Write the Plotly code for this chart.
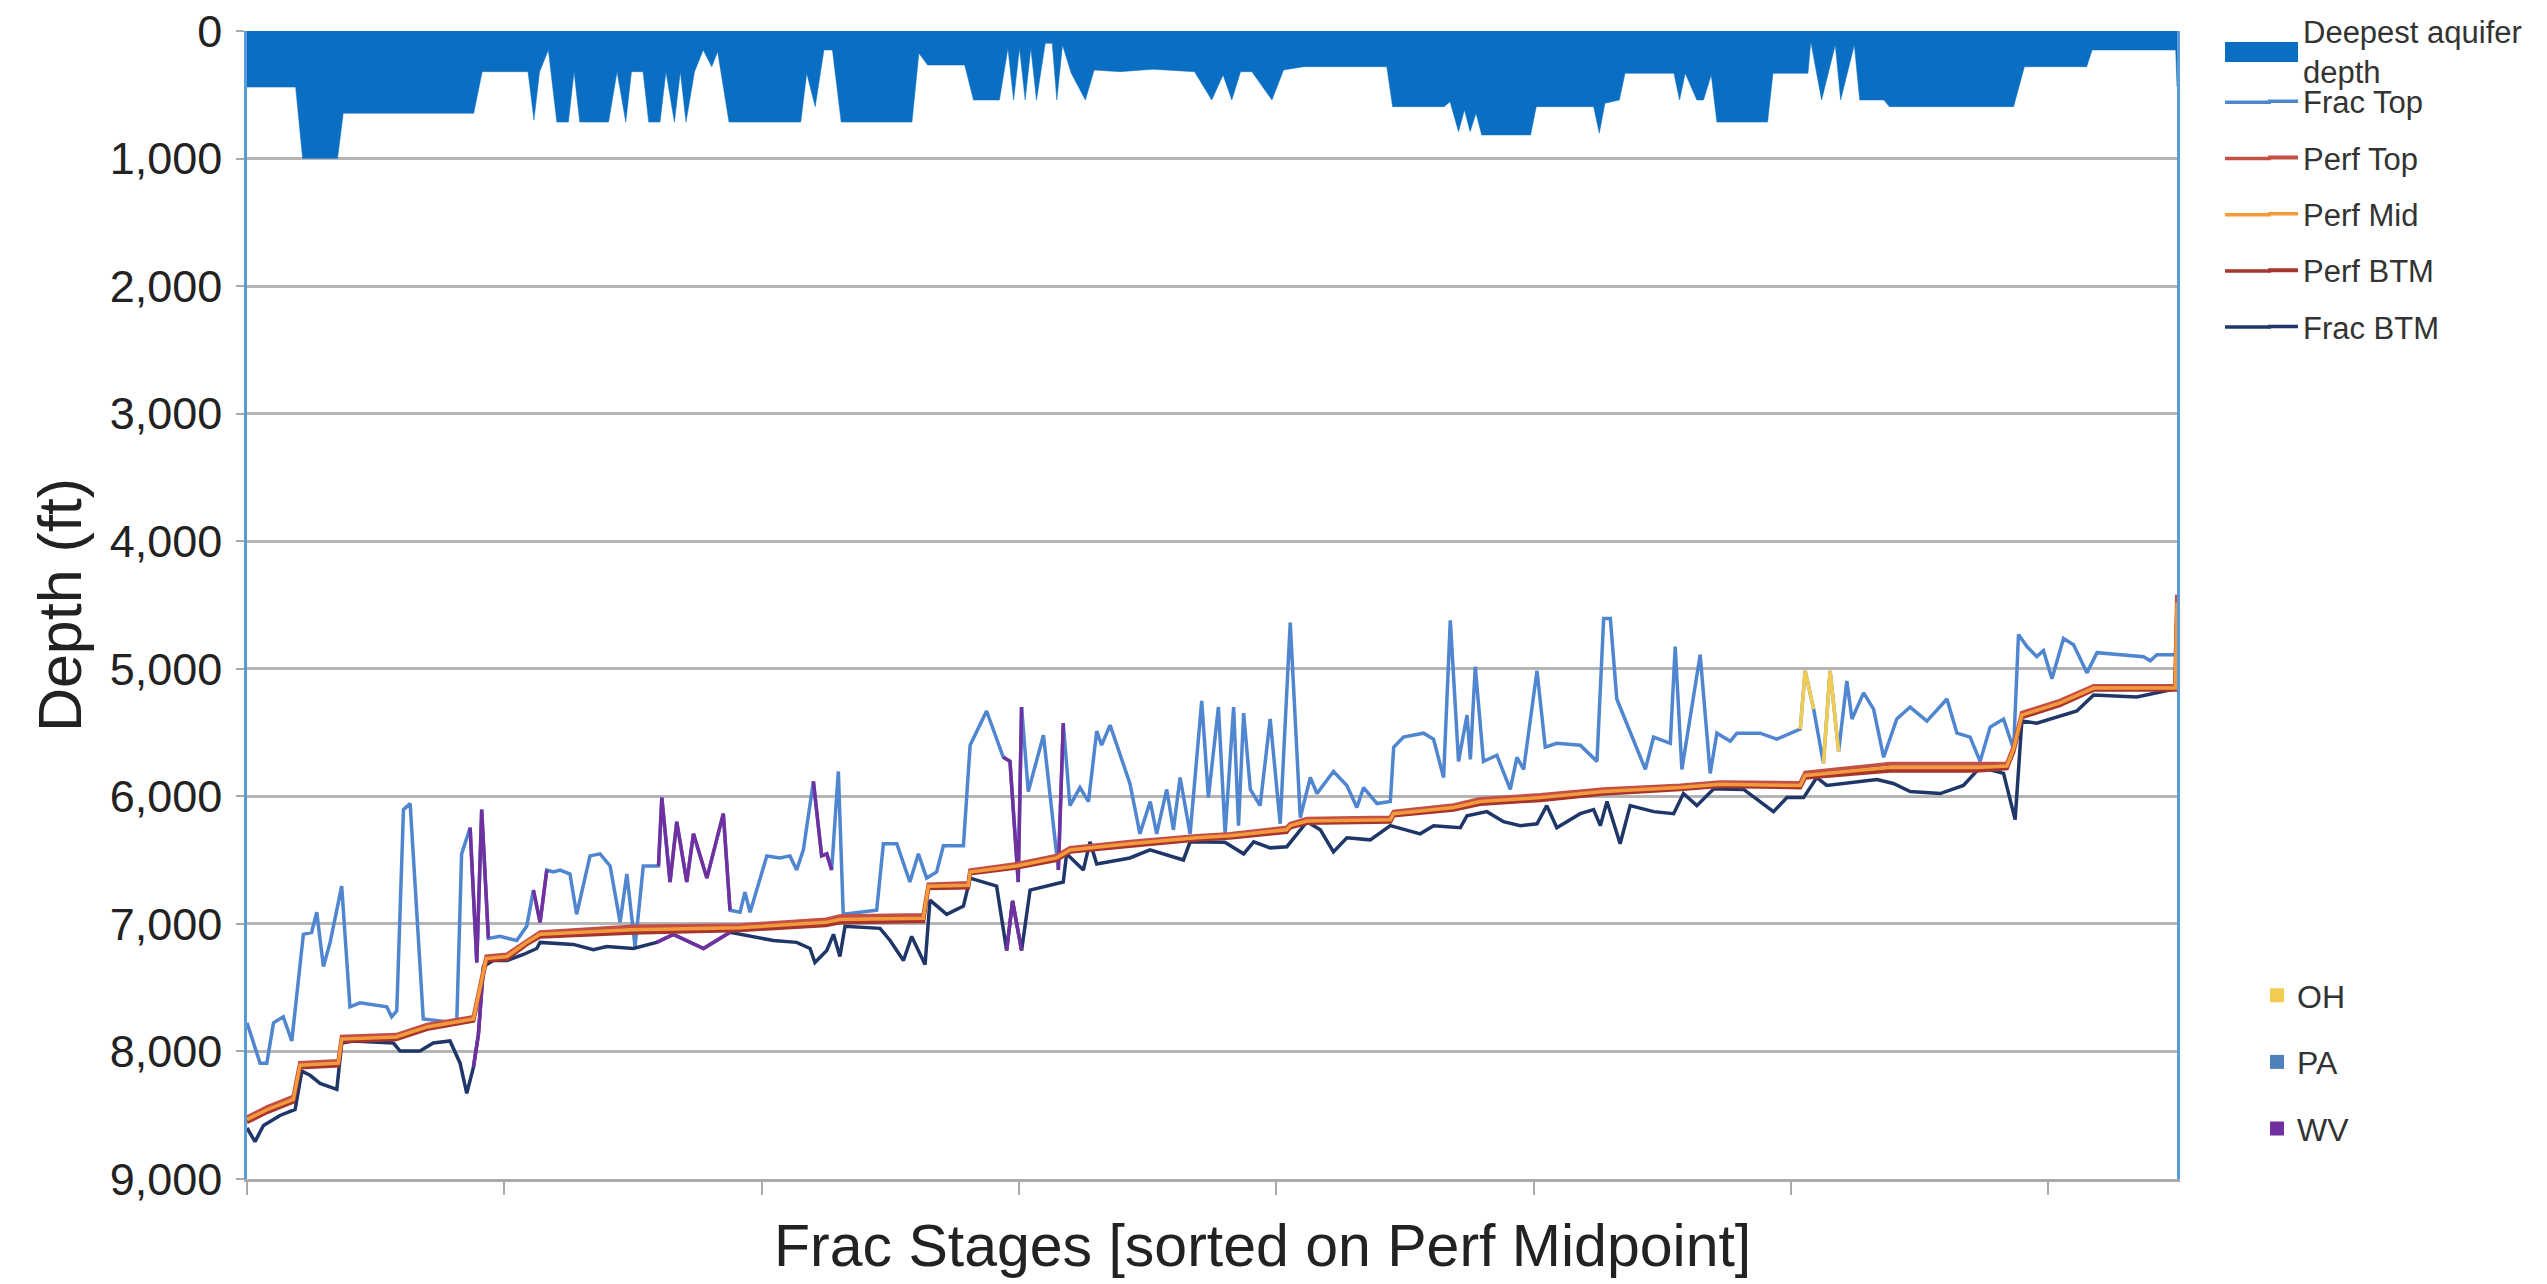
import plotly.graph_objects as go

# ---------------- data ----------------
aquifer_stage = [0, 18.9, 21.6, 35.2, 37.4, 88.1, 91.4, 109.2, 111.5, 113.7, 117.1, 120.4, 124.9, 127.1, 129.3,
                 140.5, 143.8, 147.2, 149.4, 153.9, 156.1, 160.5, 162.8, 166.1, 168.4, 170.6, 173.9, 177.3, 180.6,
                 182.9, 187.3, 215.2, 217.5, 220.8, 224.2, 227.5, 230.9, 258.4, 261.1, 264.5, 278.9, 282.3, 292.4,
                 295.7, 297.9, 300.2, 302.4, 304.6, 306.8, 310.2, 312.9, 314.7, 316.9, 320.3, 325.8, 329.2, 339.2,
                 352, 368.2, 374.9, 379.3, 382.7, 386.1, 390.5, 398.3, 402.8, 410.6, 442.9, 445.2, 465.2, 467.5,
                 470.8, 473.1, 475.3, 477.6, 479.8, 498.8, 501, 523.3, 525.5, 527.7, 533.3, 535.5, 554.5, 556.7,
                 558.9, 563.4, 566, 569, 571.2, 590.9, 593, 606.6, 607.7, 611.9, 617.2, 619.3, 624.6, 626.7, 636.1,
                 638.2, 686.5, 690.7, 714.9, 717, 749.5, 750]
aquifer_depth = [440, 440, 998, 998, 645, 645, 319, 319, 698, 319, 149, 714, 714, 319, 714,
                 714, 319, 714, 319, 319, 714, 714, 319, 714, 319, 714, 319, 149, 280,
                 162, 714, 714, 332, 593, 149, 149, 714, 714, 175, 267, 267, 541, 541,
                 136, 541, 136, 541, 136, 541, 97, 97, 541, 110, 332, 541, 306, 319,
                 300, 319, 541, 345, 541, 319, 319, 541, 306, 280, 280, 593, 593, 554,
                 789, 619, 789, 645, 815, 815, 593, 593, 802, 567, 541, 332, 332, 541,
                 332, 541, 541, 345, 714, 714, 332, 332, 84, 541, 110, 541, 110, 541, 541,
                 593, 593, 280, 280, 149, 149, 439]

frac_top_stage = [0, 5.1, 7.7, 10.3, 14.1, 17.4, 21.9, 25.1, 27.1, 29.7, 32.3, 36.8, 40, 43.9, 54.3, 56.2, 58.2,
                  60.8, 63.4, 68.5, 81.5, 83.4, 86.7, 89.3, 91.2, 93.8, 98.3, 104.8, 108.7, 111.3, 113.9, 116.5,
                  119.1, 121.7, 125.5, 128.1, 133.3, 137.2, 141.1, 145, 147.6, 150.8, 154, 159.9, 161.2, 164.4,
                  167, 170.9, 173.5, 178.7, 185.1, 187.7, 191.6, 193.5, 195.5, 202, 207.1, 211, 213.6, 216.2,
                  220.1, 223.3, 225.3, 227.2, 229.8, 231.7, 244.7, 247.3, 252.5, 257.6, 260.9, 264.1, 268, 270.6,
                  278.4, 281, 287.4, 293.9, 296.5, 299.7, 301, 303.6, 309.5, 315.3, 317.2, 319.8, 323.7, 327,
                  330.2, 332.1, 335.4, 339.3, 343.1, 347, 351, 353.5, 357.4, 360, 362.6, 366.5, 371, 373.6, 377.5,
                  380.1, 383.4, 385.3, 387.3, 389.9, 393.7, 397.6, 401.5, 405.4, 409.3, 413.2, 415.8, 422.2, 427.4,
                  431.3, 433.9, 439.1, 444.3, 445.6, 449.4, 457.2, 461.1, 465, 467.6, 470.8, 474.1, 475.4, 477.3,
                  480.5, 485.7, 490.9, 493.5, 496.1, 501.3, 504.5, 509, 518.1, 524.6, 527.2, 529.8, 532.3, 538.8,
                  543.4, 546.6, 553.1, 555, 557.6, 564.7, 568.6, 571.2, 576.4, 579, 588, 594.5, 603.6, 605.5,
                  608.8, 612.6, 615.2, 618.5, 621.7, 623.7, 628.2, 632.1, 636, 641.1, 646.3, 652.8, 660.6, 664.5,
                  669.6, 673.5, 677.4, 682.6, 686.5, 688.4, 691.7, 695.5, 698.1, 701.4, 705.9, 709.8, 715, 718.9,
                  737, 739.6, 742.2, 749.3, 750]
frac_top_depth = [7776, 8092, 8092, 7776, 7729, 7918, 7082, 7067, 6909, 7335, 7145, 6704, 7650, 7619, 7650, 7729, 7682,
                  6104, 6057, 7745, 7776, 6451, 6246, 7303, 6104, 7114, 7098, 7130, 7019, 6735, 6988, 6578,
                  6593, 6578, 6609, 6925, 6467, 6451, 6546, 6988, 6609, 7177, 6546, 6546, 6010, 6672,
                  6199, 6672, 6294, 6641, 6136, 6893, 6909, 6751, 6909, 6467, 6483, 6467, 6578, 6420,
                  5883, 6467, 6451, 6578, 5805, 6925, 6893, 6372, 6372, 6672, 6451, 6641, 6593, 6388,
                  6388, 5599, 5331, 5694, 5726, 6672, 5300, 5962, 5521, 6578, 5426, 6073, 5931, 6041,
                  5489, 5599, 5442, 5678, 5899, 6294, 6041, 6294, 5946, 6262, 5852, 6294, 5252, 6010, 5300,
                  6294, 5300, 6230, 5347, 5946, 6073, 5394, 6215, 4637, 6167, 5852, 5978, 5805, 5915,
                  6088, 5931, 6057, 6041, 5615, 5536, 5505, 5552, 5852, 4621, 5726, 5363, 5710, 4984,
                  5726, 5678, 5946, 5694, 5789, 5016, 5615, 5584, 5599, 5726, 4606, 4606, 5237, 5568,
                  5789, 5536, 5584, 4826, 5789, 4890, 5820, 5505, 5568, 5505, 5505, 5552, 5473, 5016,
                  5316, 5741, 5016, 5647, 5095, 5394, 5189, 5316, 5694, 5394, 5300, 5410, 5237, 5505,
                  5536, 5726, 5457, 5394, 5631, 4732, 4826, 4905, 4858, 5079, 4763, 4811, 5032, 4874,
                  4905, 4937, 4890, 4890, 4716]

frac_btm_stage = [0, 3.1, 6.4, 12.8, 18.7, 21.3, 24.5, 28.4, 34.9, 36.8, 41.3, 56.9, 59.5, 67.2, 72.4, 78.9, 82.8,
                  85.4, 88, 89.9, 91.9, 95.7, 101, 107.4, 112.6, 113.9, 126.8, 134.6, 139.8, 150.1, 159.2, 165.7,
                  177.4, 181.2, 187.7, 204.5, 213.6, 218.8, 220.7, 225.3, 227.9, 230.4, 232.4, 246, 249.9, 255.1,
                  258.3, 263.5, 265.4, 271.9, 278.4, 281, 286.1, 291.3, 295.2, 297.5, 301, 304.3, 317.2, 318.5,
                  325, 327.6, 330.2, 343.1, 350.9, 363.9, 366.5, 375.5, 380, 387.3, 391.2, 397.6, 404.1, 411.9,
                  417.1, 422.2, 427.4, 436.5, 444.3, 455.9, 461.1, 471.5, 474.1, 481.8, 488.3, 494.8, 501.3, 505.1,
                  509, 518.1, 523.3, 525.9, 528.5, 533.6, 537.5, 546.6, 554.4, 558.2, 563.4, 570, 581.6, 593.2,
                  598.4, 604.9, 610, 613.9, 620.4, 633.4, 639.8, 646.3, 658, 667, 673.5, 682.6, 687.1, 689.7, 695.5,
                  711.1, 717.6, 734.4, 749.3, 750]
frac_btm_depth = [8600, 8707, 8581, 8502, 8455, 8155, 8187, 8250, 8297, 7934, 7918, 7934, 7997, 7997, 7934, 7918, 8092,
                  8329, 8123, 7871, 7335, 7287, 7287, 7240, 7193, 7145, 7161, 7202, 7177, 7193, 7145, 7082,
                  7193, 7145, 7066, 7130, 7145, 7193, 7303, 7208, 7082, 7256, 7019, 7035, 7130, 7287,
                  7098, 7319, 6814, 6925, 6861, 6641, 6672, 6704, 7209, 6820, 7209, 6735, 6672, 6451,
                  6578, 6357, 6530, 6483, 6420, 6499, 6357, 6357, 6360, 6451, 6357, 6404, 6395, 6199,
                  6262, 6436, 6325, 6341, 6230, 6294, 6230, 6246, 6152, 6120, 6199, 6230, 6215, 6073,
                  6246, 6136, 6104, 6230, 6041, 6372, 6073, 6120, 6136, 5978, 6073, 5940, 5946, 6120,
                  6010, 6010, 5852, 5915, 5899, 5868, 5899, 5962, 5978, 5915, 5773, 5820, 6183, 5410, 5426,
                  5331, 5205, 5221, 5158, 4621]

perf_stage = [0, 8, 18, 20.6, 35.5, 36.8, 58, 70, 88, 93, 101, 108.7, 113.9, 150, 191.6, 225, 230.4, 262.8,
              264.8, 280.3, 281, 299, 314.6, 319.8, 343.1, 369, 382, 404, 405.4, 411.9, 444.3, 445.6, 468.9,
              479.2, 502.6, 527.2, 557, 572.5, 603.6, 605.5, 638.5, 672.2, 683.9, 686.5, 689.7, 704.6, 717.6,
              749.3, 750]
perf_top = [8515, 8435, 8355, 8090, 8075, 7885, 7870, 7790, 7730, 7255, 7240, 7130, 7065, 7020, 7010, 6965, 6940,
            6930, 6690, 6680, 6580, 6530, 6465, 6405, 6355, 6310, 6295, 6245, 6215, 6175, 6165, 6120, 6070, 6020,
            5990, 5945, 5915, 5890, 5895, 5815, 5745, 5745, 5745, 5610, 5345, 5250, 5135, 5135, 4420]
perf_mid = [8534, 8455, 8376, 8108, 8092, 7903, 7887, 7808, 7745, 7272, 7256, 7145, 7082, 7045, 7030, 6988, 6966,
            6956, 6704, 6697, 6593, 6546, 6483, 6420, 6372, 6325, 6309, 6262, 6230, 6193, 6183, 6136, 6088, 6041,
            6010, 5962, 5931, 5905, 5915, 5836, 5773, 5773, 5763, 5631, 5363, 5268, 5151, 5151, 4480]
perf_btm = [8555, 8475, 8395, 8125, 8110, 7920, 7905, 7825, 7760, 7290, 7275, 7160, 7100, 7070, 7050, 7010, 6990,
            6980, 6720, 6715, 6605, 6560, 6500, 6435, 6390, 6340, 6325, 6280, 6245, 6210, 6200, 6150, 6105, 6060,
            6030, 5980, 5945, 5920, 5930, 5855, 5800, 5800, 5780, 5650, 5380, 5285, 5165, 5165, 4560]

# stage ranges by state (default PA)
wv_top_ranges = [(86, 95), (110, 118), (159, 188), (219, 228), (293, 303), (314, 319)]
wv_btm_ranges = [(86, 95), (159, 188), (293, 303)]
oh_top_ranges = [(603.6, 608.8), (612.6, 618.5)]

y_ticks = [0, 1000, 2000, 3000, 4000, 5000, 6000, 7000, 8000, 9000]
x_ticks = [0, 100, 200, 300, 400, 500, 600, 700]

# ---------------- styles ----------------
C_AQ = "#0A6FC2"
C_FTOP = "#4F86CF"
C_PTOP = "#C44F45"
C_PMID = "#F39A3B"
C_PBTM = "#A8352D"
C_FBTM = "#1F3668"
C_OH = "#F2CB52"
C_PA = "#4F81BD"
C_WV = "#7030A0"
FONT = "Liberation Sans, Arial, sans-serif"
LW = 3.5

# figure geometry (page body margin removed in post_script)
W, H = 2547, 1284
ML, MR, MT, MB = 247, 370, 31, 105
PW = W - ML - MR          # plot width  (1930)
PH = H - MT - MB          # plot height (1148)
OFF = 0                   # page offset of the figure


def segments(xs, ys, ranges):
    ox, oy = [], []
    for a, b in ranges:
        for x, y in zip(xs, ys):
            if a <= x <= b:
                ox.append(x)
                oy.append(y)
        ox.append(None)
        oy.append(None)
    return ox, oy


def px_x(p):   # page px -> paper x
    return (p - OFF - ML) / PW


def px_y(p):   # page px -> paper y
    return 1 - (p - OFF - MT) / PH


fig = go.Figure()

# aquifer fill
fig.add_trace(go.Scatter(x=aquifer_stage, y=aquifer_depth, mode="lines", fill="tozeroy",
                         fillcolor=C_AQ, line=dict(color=C_AQ, width=0.5), showlegend=False,
                         name="Deepest aquifer depth"))
# legend entry for aquifer
fig.add_trace(go.Scatter(x=[None], y=[None], mode="lines", line=dict(color=C_AQ, width=10),
                         name="Deepest aquifer<br>depth", legend="legend3", legendgroup="g0"))

fig.add_trace(go.Scatter(x=frac_top_stage, y=frac_top_depth, mode="lines", name="Frac Top",
                         line=dict(color=C_FTOP, width=LW), legendgroup="g1", legendrank=2))
fig.add_trace(go.Scatter(x=frac_btm_stage, y=frac_btm_depth, mode="lines", name="Frac BTM",
                         line=dict(color=C_FBTM, width=LW), legendgroup="g5", legendrank=6))

# state overlays
wx, wy = segments(frac_top_stage, frac_top_depth, wv_top_ranges)
fig.add_trace(go.Scatter(x=wx, y=wy, mode="lines", line=dict(color=C_WV, width=LW), showlegend=False,
                         connectgaps=False))
wx, wy = segments(frac_btm_stage, frac_btm_depth, wv_btm_ranges)
fig.add_trace(go.Scatter(x=wx, y=wy, mode="lines", line=dict(color=C_WV, width=LW), showlegend=False,
                         connectgaps=False))
ox, oy = segments(frac_top_stage, frac_top_depth, oh_top_ranges)
fig.add_trace(go.Scatter(x=ox, y=oy, mode="lines", line=dict(color=C_OH, width=LW), showlegend=False,
                         connectgaps=False))

fig.add_trace(go.Scatter(x=perf_stage, y=perf_top, mode="lines", name="Perf Top",
                         line=dict(color=C_PTOP, width=4), legendgroup="g2", legendrank=3))
fig.add_trace(go.Scatter(x=perf_stage, y=perf_btm, mode="lines", name="Perf BTM",
                         line=dict(color=C_PBTM, width=4), legendgroup="g4", legendrank=5))
fig.add_trace(go.Scatter(x=perf_stage, y=perf_mid, mode="lines", name="Perf Mid",
                         line=dict(color=C_PMID, width=3.5), legendgroup="g3", legendrank=4))

# state legend
for i, (nm, col) in enumerate([("OH", C_OH), ("PA", C_PA), ("WV", C_WV)]):
    fig.add_trace(go.Scatter(x=[None], y=[None], mode="markers", name=nm,
                             marker=dict(symbol="square", size=14, color=col),
                             legend="legend2", legendgroup="s" + nm, legendrank=10 + i))

# longer legend keys (Excel-style), drawn left of plotly's short symbols
legend_key_colors = [C_FTOP, C_PTOP, C_PMID, C_PBTM, C_FBTM]
legend_key_rows = [102.3, 158.5, 214.7, 270.9, 327.1]
shapes = [dict(type="rect", xref="paper", yref="paper", x0=px_x(2225), x1=px_x(2298),
               y0=px_y(62), y1=px_y(42), fillcolor=C_AQ, line=dict(width=0))]
for col, row in zip(legend_key_colors, legend_key_rows):
    shapes.append(dict(type="line", xref="paper", yref="paper", x0=px_x(2225), x1=px_x(2271),
                       y0=px_y(row), y1=px_y(row), line=dict(color=col, width=3.5)))

LEG_FONT = dict(family=FONT, size=31, color="#333333")
fig.update_layout(
    width=W, height=H, autosize=False,
    margin=dict(l=ML, r=MR, t=MT, b=MB, autoexpand=False),
    paper_bgcolor="white", plot_bgcolor="white",
    font=dict(family=FONT, color="#222222"),
    legend=dict(x=px_x(2263), xanchor="left", y=px_y(74.6), yanchor="top", traceorder="grouped",
                tracegroupgap=13, font=LEG_FONT, bgcolor="rgba(0,0,0,0)"),
    legend3=dict(x=px_x(2263), xanchor="left", y=px_y(4), yanchor="top",
                 font=LEG_FONT, bgcolor="rgba(0,0,0,0)"),
    legend2=dict(x=px_x(2257), xanchor="left", y=px_y(968), yanchor="top", traceorder="grouped",
                 tracegroupgap=22, font=dict(family=FONT, size=32, color="#333333"),
                 bgcolor="rgba(0,0,0,0)"),
    shapes=shapes,
    annotations=[dict(text="Frac Stages [sorted on Perf Midpoint]", xref="paper", yref="paper",
                      x=px_x(1262), y=px_y(1246), xanchor="center", yanchor="middle", showarrow=False,
                      font=dict(family=FONT, size=59, color="#222222"))],
)

fig.update_xaxes(range=[0, 750], tickvals=x_ticks, showticklabels=False, ticks="outside", ticklen=13,
                 tickwidth=2, tickcolor="#AAAAAA", showgrid=False, zeroline=False, automargin=False,
                 showline=True, linecolor="#AAAAAA", linewidth=3)
fig.update_yaxes(range=[9000, 0], tickvals=y_ticks, tickformat=",", ticks="outside", ticklen=8,
                 tickwidth=2, tickcolor="#AAAAAA", showgrid=True, gridcolor="#B5B5B5", gridwidth=2.5,
                 zeroline=False, showline=True, linecolor="#5B9BD5", linewidth=2.5, mirror=True,
                 automargin=False, ticklabeloverflow="allow",
                 tickfont=dict(family=FONT, size=45, color="#222222"), ticklabelstandoff=5,
                 title=dict(text="Depth (ft)", font=dict(family=FONT, size=61, color="#222222"), standoff=9))

fig.write_html("out.html", config={"displayModeBar": False},
               post_script="document.body.style.margin='0';document.body.style.overflow='hidden';")
